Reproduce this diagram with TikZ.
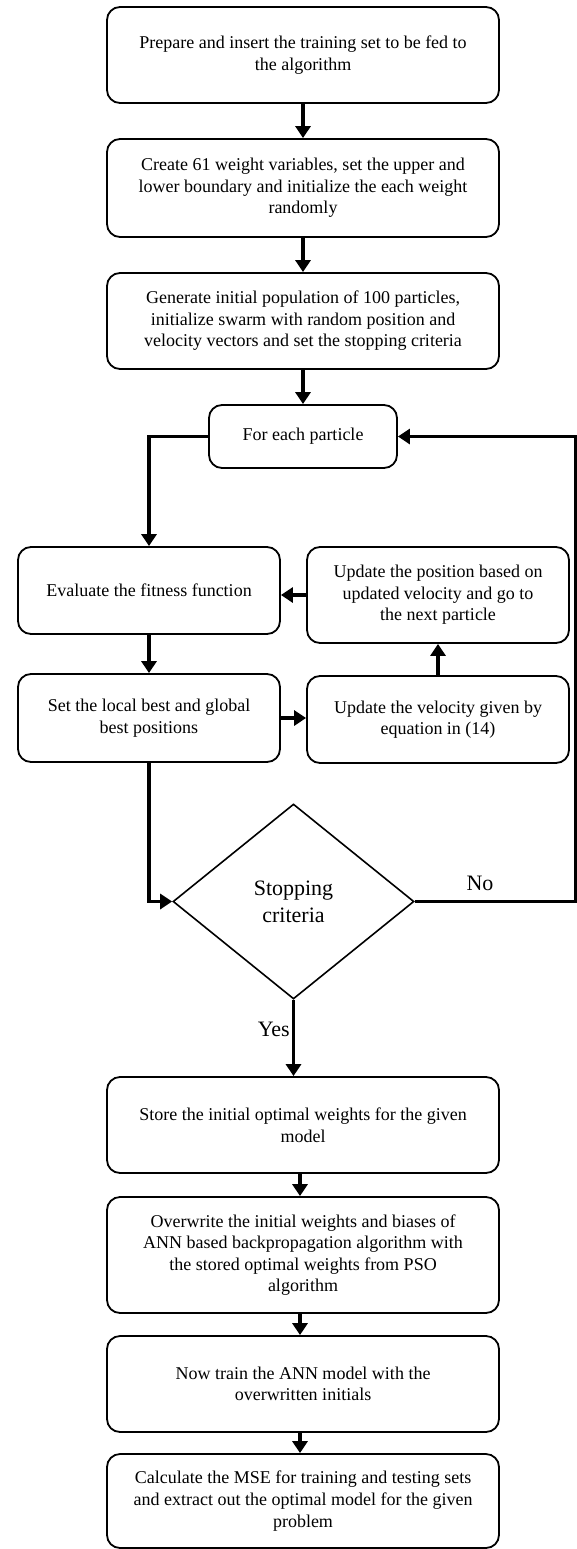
\documentclass[tikz,border=0pt]{standalone}
\usepackage{fontspec}
\setmainfont{Liberation Serif}
\usetikzlibrary{arrows.meta,shapes.geometric}

\begin{document}
\begin{tikzpicture}[x=1pt,y=-1pt,
  box/.style={draw, line width=1.8pt, rounded corners=13pt, align=center,
    inner sep=0pt, font=\fontsize{18}{21.6}\selectfont},
  wide/.style={box, minimum width=392pt},
  half/.style={box, minimum width=262pt},
  decision/.style={draw, line width=1.6pt, shape=diamond, aspect=1.236,
    minimum width=241pt, minimum height=195pt, inner sep=0pt, align=center,
    font=\fontsize{22}{27}\selectfont},
  conn/.style={line width=3.5pt, -{Triangle[width=15pt,length=12pt]}},
  lbl/.style={font=\fontsize{22}{26}\selectfont, inner sep=0pt}]

\useasboundingbox (0,0) rectangle (577,1549);

% main column, top part
\node[wide, minimum height=96pt] (prep) at (303,55)
  {Prepare and insert the training set to be fed to\\the algorithm};
\node[wide, minimum height=98pt] (init) at (303,188)
  {Create 61 weight variables, set the upper and\\lower boundary and initialize the each weight\\randomly};
\node[wide, minimum height=96pt] (pop) at (303,321)
  {Generate initial population of 100 particles,\\initialize swarm with random position and\\velocity vectors and set the stopping criteria};
\node[box, minimum width=188pt, minimum height=63pt] (each) at (303,436.5)
  {For each particle};

% particle loop
\node[half, minimum height=87pt] (fit) at (149,590.5)
  {Evaluate the fitness function};
\node[half, minimum height=96pt] (pos) at (438,595)
  {Update the position based on\\updated velocity and go to\\the next particle};
\node[half, minimum height=88pt] (best) at (149,718)
  {Set the local best and global\\best positions};
\node[half, minimum height=87pt] (vel) at (438,719.5)
  {Update the velocity given by\\equation in (14)};

\node[decision] (stop) at (293.5,901.5) {Stopping\\criteria};
\coordinate (rim) at (575.5,901.5);

% final stage
\node[wide, minimum height=96pt] (store) at (303,1125)
  {Store the initial optimal weights for the given\\model};
\node[wide, minimum height=116pt] (over) at (303,1255)
  {Overwrite the initial weights and biases of\\ANN based backpropagation algorithm with\\the stored optimal weights from PSO\\algorithm};
\node[wide, minimum height=96pt] (train) at (303,1384)
  {Now train the ANN model with the\\overwritten initials};
\node[wide, minimum height=94pt] (mse) at (303,1501)
  {Calculate the MSE for training and testing sets\\and extract out the optimal model for the given\\problem};

% connectors
\draw[conn] (prep) -- (init);
\draw[conn] (init) -- (pop);
\draw[conn] (pop) -- (each);
\draw[conn] (each.west) -| (fit.north);
\draw[conn] (fit) -- (best);
\draw[conn] (best.east) -- (best.east -| vel.west);
\draw[conn] (vel) -- (pos);
\draw[conn] (pos.west) -- (pos.west -| fit.east);
\draw[conn] (best.south) |- (stop.west);
\draw[conn] (stop.east) -- (rim) |- (each.east);
\draw[conn] (stop.south) -- (stop.south |- store.north);
\draw[conn] ([xshift=-3pt]store.south) -- ([xshift=-3pt]over.north);
\draw[conn] ([xshift=-3pt]over.south) -- ([xshift=-3pt]train.north);
\draw[conn] ([xshift=-3pt]train.south) -- ([xshift=-3pt]mse.north);

% branch labels
\node[lbl] (no) at (480,883) {No};
\node[lbl, anchor=east] (yes) at (290,1029) {Yes};

\end{tikzpicture}
\end{document}
